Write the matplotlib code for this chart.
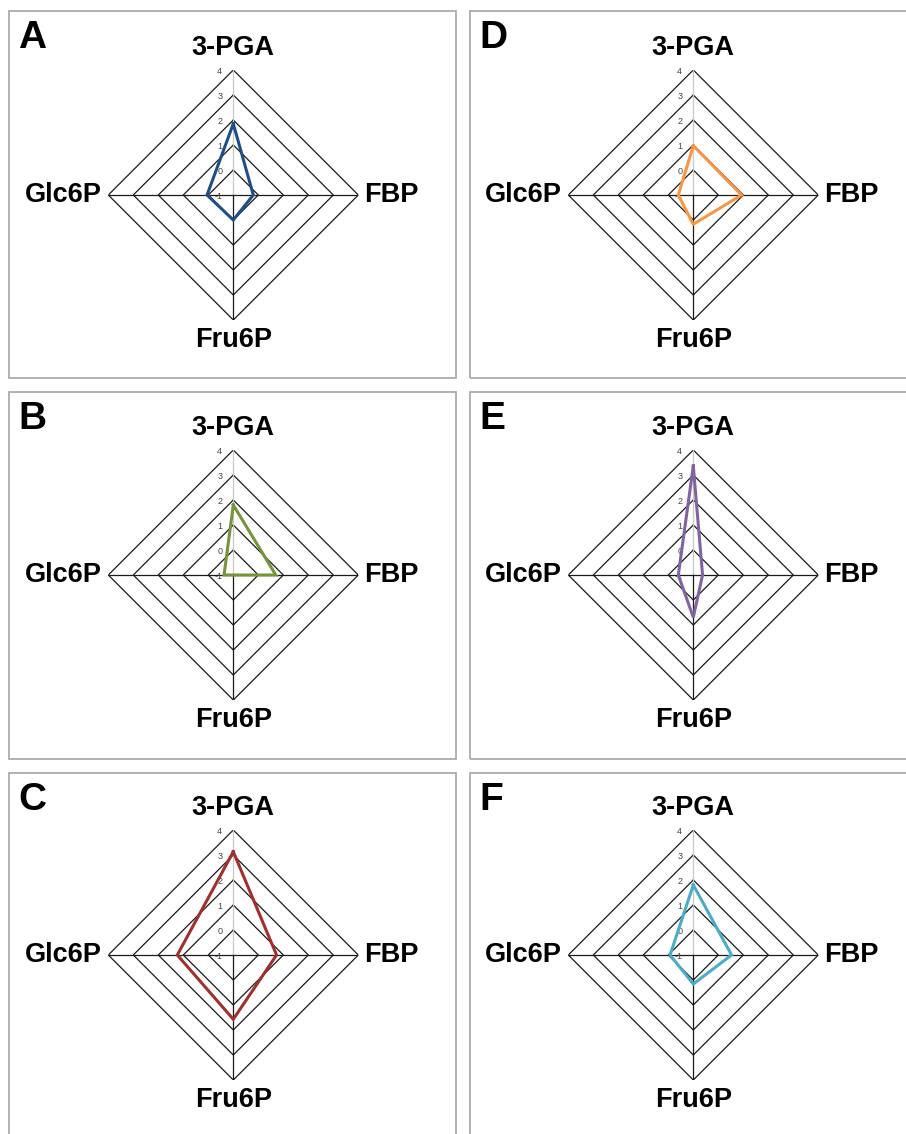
import numpy as np
import matplotlib
matplotlib.use("Agg")
import matplotlib.pyplot as plt
from matplotlib.patches import Rectangle

# ---- data ----
categories = ["3-PGA", "FBP", "Fru6P", "Glc6P"]
panel_letters = ["A", "B", "C", "D", "E", "F"]
values_A = [1.85, -0.2, 0.0, 0.05]
values_B = [1.8, 0.7, -1.0, -0.63]
values_C = [3.13, 0.73, 1.57, 1.24]
values_D = [0.97, 0.93, 0.17, -0.4]
values_E = [3.36, -0.63, 0.69, -0.4]
values_F = [1.8, 0.53, 0.16, -0.07]
panel_values = [values_A, values_B, values_C, values_D, values_E, values_F]
panel_colors = ["#1F4E86", "#77933C", "#A0302E", "#F79646", "#8064A2", "#4BACC6"]
ring_values = [0, 1, 2, 3, 4]
tick_labels = ["4", "3", "2", "1", "0", "-1"]
r_min, r_max = -1, 4

W, H = 906, 1134
fig = plt.figure(figsize=(W / 100, H / 100), dpi=100)
fig.patch.set_facecolor("white")

FONT = ["Liberation Sans", "DejaVu Sans"]

# panel boxes (pixel coords, top-left origin)
col_x = [(9, 456), (470, 910)]
row_y = [(11, 378), (392, 759), (773, 1150)]
centers_x = [233.3, 693.3]
centers_y = [195, 575, 955]
R = 125.0

angles = np.linspace(0, 2 * np.pi, len(categories), endpoint=False)

for p in range(6):
    col = p // 3
    row = p % 3
    x0, x1 = col_x[col]
    y0, y1 = row_y[row]
    fig.patches.append(Rectangle((x0 / W, 1 - y1 / H), (x1 - x0) / W, (y1 - y0) / H,
                                 transform=fig.transFigure, fill=False,
                                 edgecolor="#ababab", linewidth=1.3, zorder=0))
    fig.text((x0 + 9) / W, 1 - (y0 + 27) / H, panel_letters[p],
             fontsize=28, fontweight="bold", family=FONT, va="center", ha="left")

    cx, cy = centers_x[col], centers_y[row]
    ax = fig.add_axes([(cx - R) / W, 1 - (cy + R) / H, 2 * R / W, 2 * R / H],
                      projection="polar")
    ax.set_theta_zero_location("N")
    ax.set_theta_direction(-1)
    ax.set_ylim(r_min, r_max)
    ax.grid(False)
    ax.spines["polar"].set_visible(False)
    ax.set_xticks([])
    ax.set_yticks([])
    ax.patch.set_alpha(0)

    ang_closed = np.concatenate([angles, angles[:1]])
    for rv in ring_values:
        ax.plot(ang_closed, [rv] * len(ang_closed), color="#1a1a1a", lw=0.9, zorder=1)
    for i, a in enumerate(angles):
        ax.plot([a, a], [r_min, r_max], color="#c8c8c8" if i == 0 else "#1a1a1a",
                lw=0.9, zorder=1)

    for k, lbl in enumerate(tick_labels):
        rv = r_max - k
        ax.annotate(lbl, xy=(0, rv), xytext=(-8, -1), textcoords="offset points",
                    fontsize=6.5, color="#444444", ha="right", va="center", family=FONT)

    vals = panel_values[p]
    v_closed = list(vals) + [vals[0]]
    ax.plot(ang_closed, v_closed, color=panel_colors[p], lw=2.2, zorder=3,
            solid_joinstyle="miter")

    lab_kw = dict(fontsize=19.5, fontweight="bold", family=FONT, clip_on=False)
    ax.text(angles[0], 4.88, categories[0], ha="center", va="center", **lab_kw)
    ax.annotate(categories[1], xy=(angles[1], r_max), xytext=(4.5, 0),
                textcoords="offset points", ha="left", va="center", **lab_kw)
    ax.text(angles[2], 4.8, categories[2], ha="center", va="center", **lab_kw)
    ax.annotate(categories[3], xy=(angles[3], r_max), xytext=(-5, 0),
                textcoords="offset points", ha="right", va="center", **lab_kw)

fig.savefig("out.png", dpi=100, facecolor="white")
